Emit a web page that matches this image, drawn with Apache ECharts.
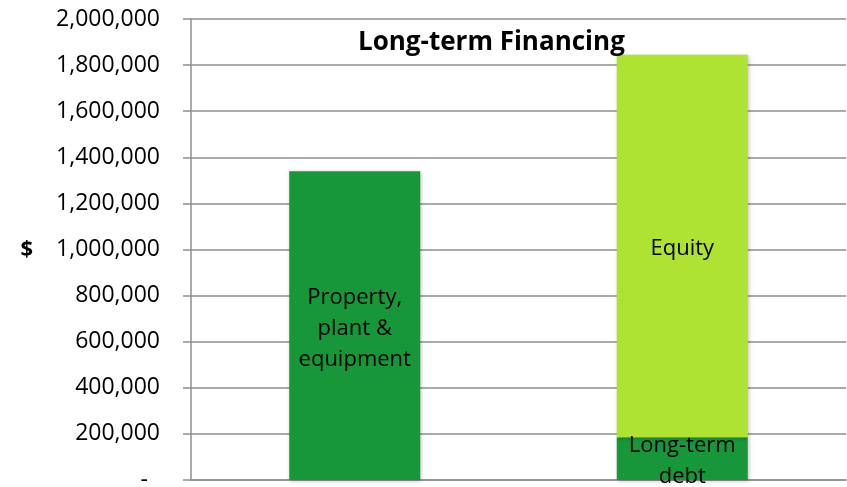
<!DOCTYPE html>
<html>
<head>
<meta charset="utf-8">
<script src="https://cdn.jsdelivr.net/npm/echarts@6/dist/echarts.min.js"></script>
<style>
    html, body { margin: 0; padding: 0; background: #fff; }
    #chart { width: 847px; height: 487px; }
</style>
</head>
<body>
<div id="chart"></div>
<script>
    // data
    var categories = ['Assets', 'Financing'];
    var ppeValues = [1340000, null];
    var debtValues = [null, 185000];
    var equityValues = [null, 1660000];
    var ppeName = 'Property,\nplant &\nequipment';
    var debtName = 'Long-term\ndebt';
    var equityName = 'Equity';

    var darkGreen = '#18963a';
    var lightGreen = '#afe333';
    var gridGray = '#8e8e8e';
    var fontFam = '"Open Sans", "Liberation Sans", sans-serif';

    var chart = echarts.init(document.getElementById('chart'));

    var barLabel = function (text) {
        return {
            show: true,
            position: 'inside',
            offset: [0, 3],
            formatter: text,
            color: '#000',
            fontFamily: fontFam,
            fontSize: 22,
            lineHeight: 31
        };
    };

    var shadow = {
        shadowColor: 'rgba(0,0,0,0.25)',
        shadowBlur: 4,
        shadowOffsetX: 1,
        shadowOffsetY: 1
    };

    var option = {
        animation: false,
        title: {
            text: 'Long-term Financing',
            left: 353,
            top: 25,
            textStyle: {
                fontFamily: fontFam,
                fontWeight: 'bold',
                fontSize: 26,
                color: '#000'
            }
        },
        grid: {
            left: 191,
            right: 1,
            top: 19,
            bottom: 7,
            containLabel: false,
            outerBoundsMode: 'none'
        },
        xAxis: {
            type: 'category',
            data: categories,
            axisLine: { show: true, lineStyle: { color: gridGray, width: 1.5 } },
            axisTick: { show: false },
            axisLabel: { show: false }
        },
        yAxis: {
            type: 'value',
            min: 0,
            max: 2000000,
            interval: 200000,
            name: '$',
            nameLocation: 'middle',
            nameRotate: 0,
            nameGap: 158,
            nameTextStyle: {
                fontFamily: fontFam,
                fontWeight: 'bold',
                fontSize: 22,
                color: '#000'
            },
            axisLine: { show: true, lineStyle: { color: gridGray, width: 1.5 } },
            axisTick: { show: true, length: 8, lineStyle: { color: gridGray, width: 1.5 } },
            splitLine: { show: true, lineStyle: { color: gridGray, width: 1.5 } },
            axisLabel: {
                margin: 31,
                fontFamily: fontFam,
                fontSize: 23,
                color: '#000',
                formatter: function (v) {
                    if (v === 0) return '{z|-}';
                    return v.toLocaleString('en-US');
                },
                rich: {
                    z: { fontFamily: fontFam, fontSize: 23, color: '#000', padding: [0, 12, 0, 0] }
                }
            }
        },
        series: [
            {
                name: 'PPE',
                type: 'bar',
                stack: 'total',
                barWidth: '40%',
                data: ppeValues,
                itemStyle: Object.assign({ color: darkGreen }, shadow),
                label: barLabel(ppeName)
            },
            {
                name: 'Debt',
                type: 'bar',
                stack: 'total',
                barWidth: '40%',
                data: debtValues,
                itemStyle: Object.assign({ color: darkGreen }, shadow),
                label: barLabel(debtName)
            },
            {
                name: 'Equity',
                type: 'bar',
                stack: 'total',
                barWidth: '40%',
                data: equityValues,
                itemStyle: Object.assign({ color: lightGreen }, shadow),
                label: barLabel(equityName)
            }
        ]
    };

    chart.setOption(option);
</script>
</body>
</html>
